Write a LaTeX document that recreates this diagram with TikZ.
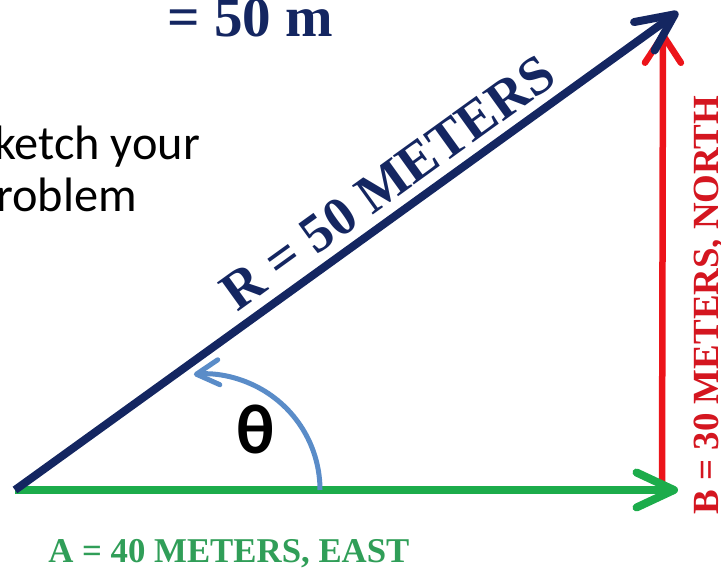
\documentclass[tikz,border=0pt]{standalone}
\usepackage{fontspec}
\setmainfont{Liberation Serif}
\newfontfamily\calibfont{Carlito}
\usetikzlibrary{arrows.meta}

\definecolor{navyR}{RGB}{20,38,97}
\definecolor{greenA}{RGB}{28,172,75}
\definecolor{greenT}{RGB}{48,158,88}
\definecolor{redB}{RGB}{236,20,26}
\definecolor{redT}{RGB}{212,22,32}
\definecolor{blueArc}{RGB}{90,140,200}

\begin{document}
\begin{tikzpicture}[
  every node/.style={inner sep=0pt}
]
\tikzset{
  vec/.style    ={line cap=butt, line join=round},
  vecA/.style   ={vec, draw=greenA, line width=0.16cm,
                  -{Straight Barb[length=0.75cm, width=0.7cm, round]}},
  vecB/.style   ={vec, draw=redB, line width=0.13cm,
                  -{Straight Barb[length=0.55cm, width=0.72cm, round]}},
  vecR/.style   ={vec, draw=navyR, line width=0.16cm,
                  -{Straight Barb[length=0.75cm, width=0.7cm, round]}},
  angarc/.style ={draw=blueArc, line width=0.1cm,
                  -{Straight Barb[length=0.45cm, width=0.5cm, round]}},
  lab/.style    ={font=\bfseries},
  note/.style   ={font=\calibfont\fontsize{27.5}{31}\selectfont, anchor=base west}
}
\useasboundingbox (-0.30,-1.58) rectangle (14.12,9.80);

%% ----- Points -----
\coordinate (O)    at (0,0);
\coordinate (Aend) at (13.26,0);
\coordinate (Bst)  at (12.94,0);
\coordinate (Bend) at (12.96,9.16);
\coordinate (Rend) at (13.26,9.56);
\coordinate (th0)  at (6.10,0);

%% ----- Text at the top left -----
\node[lab, text=navyR, font=\bfseries\fontsize{32.5}{36}\selectfont,
      anchor=base west] (rtop) at (3.04,9.06) {= 50 m};
\node[note] (sketch1) at (-0.42,6.60) {ketch your};
\node[note] (sketch2) at (-0.38,5.56) {roblem};

%% ----- Vectors -----
\draw[vecB] (Bst) -- (Bend);
\draw[vecA] (O) -- (Aend);
\draw[vecR] (O) -- (Rend)
  node[lab, text=navyR, font=\bfseries\fontsize{31}{35}\selectfont,
       sloped, pos=0.59, anchor=base, yshift=0.27cm] (Rlab) {R = 50 METERS};

%% ----- Angle -----
\draw[angarc] (th0) arc[start angle=0, end angle=95, radius=2.32cm];
\node[font=\calibfont\bfseries\fontsize{40}{44}\selectfont] (theta)
  at (4.82,1.22) {θ};

%% ----- Labels -----
\node[lab, text=greenT, font=\bfseries\fontsize{19.8}{22}\selectfont,
      anchor=base west] (Alab) at (0.66,-1.46) {A = 40 METERS, EAST};
\node[lab, text=redT, font=\bfseries\fontsize{21}{24}\selectfont,
      rotate=90, anchor=base] (Blab) at (14.06,3.70) {B = 30 METERS, NORTH};

\end{tikzpicture}
\end{document}
